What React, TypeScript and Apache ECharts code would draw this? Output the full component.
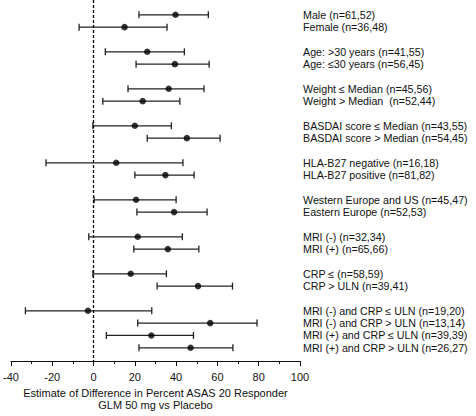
import React, { useEffect, useRef } from "react";
import * as echarts from "echarts";

const labels = [
  "Male (n=61,52)",
  "Female (n=36,48)",
  "Age: >30 years (n=41,55)",
  "Age: ≤30 years (n=56,45)",
  "Weight ≤ Median (n=45,56)",
  "Weight > Median\u00a0 (n=52,44)",
  "BASDAI score ≤ Median (n=43,55)",
  "BASDAI score > Median (n=54,45)",
  "HLA-B27 negative (n=16,18)",
  "HLA-B27 positive (n=81,82)",
  "Western Europe and US (n=45,47)",
  "Eastern Europe (n=52,53)",
  "MRI (-) (n=32,34)",
  "MRI (+) (n=65,66)",
  "CRP ≤ (n=58,59)",
  "CRP > ULN (n=39,41)",
  "MRI (-) and CRP ≤ ULN (n=19,20)",
  "MRI (-) and CRP > ULN (n=13,14)",
  "MRI (+) and CRP ≤ ULN (n=39,39)",
  "MRI (+) and CRP > ULN (n=26,27)",
];
const rowPos = [0, 1, 3, 4, 6, 7, 9, 10, 12, 13, 15, 16, 18, 19, 21, 22, 24, 25, 26, 27];
const estimates = [39.7, 15, 26, 39.4, 36.4, 23.8, 20, 45.2, 11, 34.8, 20.6, 39, 21.4, 36, 18, 50.6, -2.7, 56.5, 28, 47];
const lows = [22, -7, 5.7, 20.6, 16.7, 4.5, -0.3, 26, -23, 20, 0.3, 21, -2.3, 19.5, -0.3, 30.8, -33, 21.4, 6.2, 22];
const highs = [55.6, 35.6, 44, 56, 53.5, 41.8, 37.7, 61.3, 43.3, 48.7, 40, 55, 43, 51, 35.3, 67.3, 28.2, 79.2, 48.4, 67.5];

const xTitle = "Estimate of Difference in Percent ASAS 20 Responder\nGLM 50 mg vs Placebo";

const FONT = "'Liberation Sans', Arial, sans-serif";

export default function App() {
  const ref = useRef<HTMLDivElement>(null);
  useEffect(() => {
    document.body.style.margin = "0";
    const chart = echarts.init(ref.current!, null, { renderer: "svg" });
    const barData = rowPos.map((y, i) => [lows[i], highs[i], y]);
    const pointData = rowPos.map((y, i) => [estimates[i], y]);
    const labelMap: Record<number, string> = {};
    rowPos.forEach((p, i) => (labelMap[p] = labels[i]));
    chart.setOption({
      animation: false,
      textStyle: { fontFamily: FONT },
      grid: { left: 8, right: 176, top: 0, bottom: 50, containLabel: false },
      xAxis: {
        type: "value",
        min: -40,
        max: 100,
        interval: 20,
        axisLine: { show: true, onZero: false, lineStyle: { color: "#111", width: 1 } },
        axisTick: { show: true, length: 5, lineStyle: { color: "#111", width: 1 } },
        minorTick: { show: true, splitNumber: 2, length: 3, lineStyle: { color: "#111", width: 1 } },
        splitLine: { show: false },
        axisLabel: { color: "#111", fontSize: 11, margin: 10, fontFamily: FONT },
        name: xTitle,
        nameLocation: "middle",
        nameGap: 25,
        nameTextStyle: { color: "#111", fontSize: 11, lineHeight: 12, fontFamily: FONT },
      },
      yAxis: {
        type: "value",
        inverse: true,
        min: -1.2,
        max: 28.08,
        position: "right",
        axisLine: { show: false },
        axisTick: { show: false },
        splitLine: { show: false },
        axisLabel: {
          show: true,
          customValues: rowPos,
          formatter: (v: number) => labelMap[Math.round(v)] ?? "",
          align: "left",
          margin: 3,
          color: "#111",
          fontSize: 10.7,
          fontFamily: FONT,
        },
      },
      series: [
        {
          type: "custom",
          data: barData,
          encode: { x: [0, 1], y: 2 },
          renderItem: (params: any, api: any) => {
            const lo = api.coord([api.value(0), api.value(2)]);
            const hi = api.coord([api.value(1), api.value(2)]);
            const h = 3.5;
            const style = { stroke: "#222", lineWidth: 1.3 };
            return {
              type: "group",
              children: [
                { type: "line", shape: { x1: lo[0], y1: lo[1], x2: hi[0], y2: hi[1] }, style },
                { type: "line", shape: { x1: lo[0], y1: lo[1] - h, x2: lo[0], y2: lo[1] + h }, style },
                { type: "line", shape: { x1: hi[0], y1: hi[1] - h, x2: hi[0], y2: hi[1] + h }, style },
              ],
            };
          },
          z: 2,
        },
        {
          type: "scatter",
          data: pointData,
          symbol: "circle",
          symbolSize: 6.5,
          itemStyle: { color: "#000" },
          z: 3,
          markLine: {
            silent: true,
            symbol: "none",
            label: { show: false },
            lineStyle: { color: "#000", type: [3, 2], width: 1.3 },
            data: [{ xAxis: 0 }],
          },
        },
      ],
    });
    return () => chart.dispose();
  }, []);
  return <div ref={ref} style={{ width: 476, height: 416 }} />;
}
